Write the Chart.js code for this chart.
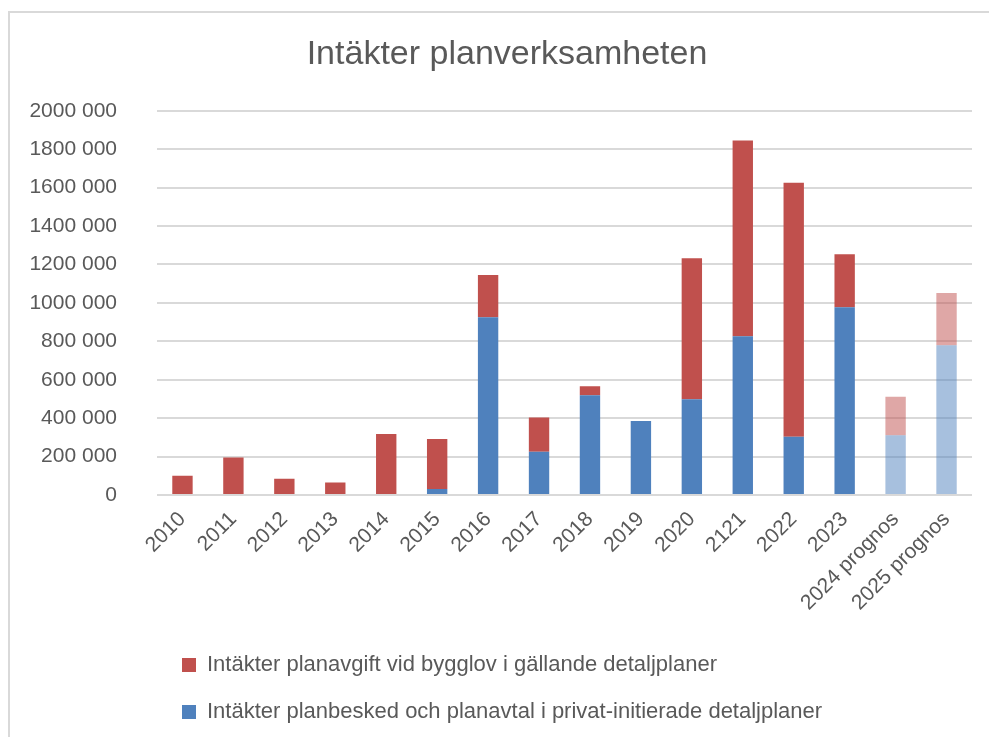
<!DOCTYPE html>
<html>
<head>
<meta charset="utf-8">
<script src="https://cdn.jsdelivr.net/npm/chart.js@4.4.1/dist/chart.umd.min.js"></script>
<style>
  body { margin: 0; background: #fff; overflow: hidden; }
  #ram { position: absolute; left: 8px; top: 11px; width: 1000px; height: 800px; border: 2px solid #d9d9d9; }
  #wrap { position: absolute; left: 10px; top: 13px; width: 994px; height: 724px; }
</style>
</head>
<body>
<div id="ram"></div>
<div id="wrap"><canvas id="myChart"></canvas></div>
<script>
// år / kategorier
const ar = ['2010', '2011', '2012', '2013', '2014', '2015', '2016', '2017', '2018', '2019', '2020', '2121', '2022', '2023', '2024 prognos', '2025 prognos'];

// Intäkter planbesked och planavtal i privat-initierade detaljplaner (blå, underst)
const planbesked = [0, 0, 0, 0, 0, 31000, 925000, 225000, 519000, 385000, 498000, 826000, 303000, 978000, 311000, 779000];

// Intäkter planavgift vid bygglov i gällande detaljplaner (röd, överst)
const planavgift = [100000, 195000, 85000, 65000, 317000, 260000, 220000, 179000, 47000, 0, 734000, 1020000, 1322000, 275000, 201000, 272000];

// y-axelns etiketter
const yEtiketter = ['0', '200 000', '400 000', '600 000', '800 000', '1000 000', '1200 000', '1400 000', '1600 000', '1800 000', '2000 000'];

const bla = ar.map(a => a.includes('prognos') ? 'rgba(79, 129, 189, 0.5)' : 'rgb(79, 129, 189)');
const rod = ar.map(a => a.includes('prognos') ? 'rgba(192, 80, 77, 0.5)' : 'rgb(192, 80, 77)');

const fontFam = '"Liberation Sans", Arial, sans-serif';
const gra = '#595959';

const ctx = document.getElementById('myChart').getContext('2d');
const myChart = new Chart(ctx, {
  type: 'bar',
  data: {
    labels: ar,
    datasets: [{
      label: 'Intäkter planbesked och planavtal i privat-initierade detaljplaner',
      data: planbesked,
      backgroundColor: bla,
      borderWidth: 0,
      barPercentage: 0.4,
      categoryPercentage: 1
    }, {
      label: 'Intäkter planavgift vid bygglov i gällande detaljplaner',
      data: planavgift,
      backgroundColor: rod,
      borderWidth: 0,
      barPercentage: 0.4,
      categoryPercentage: 1
    }]
  },
  options: {
    responsive: true,
    maintainAspectRatio: false,
    animation: false,
    layout: { padding: { left: 0, right: 0, top: 0, bottom: 4 } },
    plugins: {
      title: {
        display: true,
        text: 'Intäkter planverksamheten',
        color: gra,
        font: { family: fontFam, size: 34, weight: 'normal' },
        padding: { top: 21, bottom: 36 }
      },
      legend: {
        position: 'bottom',
        align: 'start',
        fullSize: false,
        reverse: true,
        labels: {
          color: gra,
          font: { family: fontFam, size: 22 },
          boxWidth: 14,
          boxHeight: 14,
          padding: 25,
          // prognosfärgerna ska inte synas i förklaringen
          generateLabels: function(chart) {
            return chart.data.datasets.map((ds, i) => ({
              text: ds.label,
              fillStyle: ds.backgroundColor[0],
              strokeStyle: ds.backgroundColor[0],
              lineWidth: 0,
              hidden: false,
              datasetIndex: i,
              fontColor: gra
            }));
          }
        }
      },
      tooltip: { enabled: false }
    },
    scales: {
      x: {
        stacked: true,
        grid: { display: false },
        border: { display: false },
        ticks: {
          color: gra,
          font: { family: fontFam, size: 21 },
          maxRotation: 45,
          minRotation: 45,
          padding: 4
        },
        afterFit: function(scale) { scale.height = 134; }
      },
      y: {
        stacked: true,
        min: 0,
        max: 2000000,
        border: { display: false },
        grid: { color: '#d9d9d9', lineWidth: 2, drawTicks: false },
        ticks: {
          stepSize: 200000,
          color: gra,
          font: { family: fontFam, size: 21 },
          padding: 40,
          callback: function(value, index) { return yEtiketter[index]; }
        },
        afterFit: function(scale) { scale.width = 147; }
      },
      // tom axel till höger, bara för marginalen
      hoger: {
        position: 'right',
        grid: { display: false },
        border: { display: false },
        ticks: { display: false },
        afterFit: function(scale) { scale.width = 32; }
      }
    }
  }
});
</script>
</body>
</html>
